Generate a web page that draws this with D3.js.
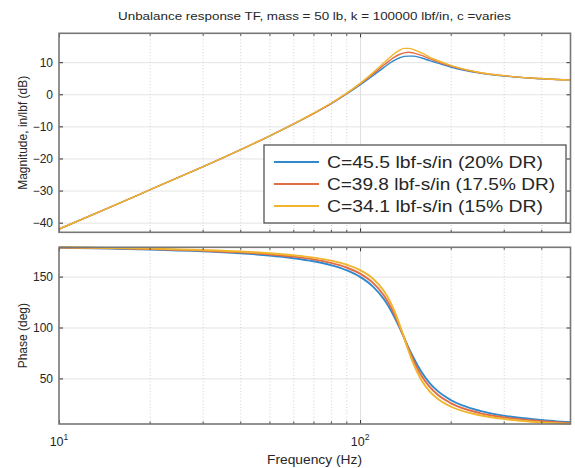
<!DOCTYPE html>
<html>
<head>
<meta charset="utf-8">
<script src="https://cdn.jsdelivr.net/npm/d3@7"></script>
<style>
  body { margin: 0; background: #ffffff; }
  text { font-family: "Liberation Sans", Arial, Helvetica, sans-serif; fill: #262626; }
</style>
</head>
<body>
<svg id="chart" width="575" height="468"></svg>
<script>
// Frequency grid (Hz)
const freqHz = [10, 15, 20, 30, 40, 50, 60, 70, 80, 90, 100, 110, 120, 125, 130, 135,
                140, 145, 150, 160, 170, 180, 200, 250, 300, 350, 400, 450, 500];

// Magnitude, in/lbf (dB)
const magC455 = [-42.0, -34.9, -29.8, -22.6, -17.3, -13.0, -9.3, -6.0, -3.0, 0.0, 2.9, 5.7, 8.4, 9.6, 10.6, 11.3,
                 11.8, 11.9, 11.9, 11.3, 10.5, 9.8, 8.5, 6.6, 5.7, 5.2, 4.8, 4.6, 4.5];
const magC398 = [-42.0, -34.9, -29.8, -22.6, -17.3, -13.0, -9.3, -6.0, -2.9, 0.2, 3.2, 6.2, 9.1, 10.4, 11.6, 12.4,
                 12.9, 13.1, 12.9, 12.1, 11.1, 10.2, 8.8, 6.7, 5.8, 5.2, 4.9, 4.6, 4.5];
const magC341 = [-42.0, -34.9, -29.8, -22.6, -17.3, -13.0, -9.3, -5.9, -2.8, 0.3, 3.4, 6.6, 9.8, 11.3, 12.7, 13.7,
                 14.3, 14.3, 14.0, 12.9, 11.6, 10.6, 9.0, 6.8, 5.8, 5.2, 4.9, 4.6, 4.5];

// Phase (deg)
const phaseC455 = [178.4, 177.5, 176.7, 174.9, 172.9, 170.7, 168.1, 165.1, 161.3, 156.3, 149.7, 140.6, 127.7, 119.6, 110.3, 100.3,
                   90.0, 80.0, 71.0, 56.2, 45.7, 38.2, 28.8, 18.1, 13.4, 10.8, 9.1, 7.8, 6.9];
const phaseC398 = [178.6, 177.8, 177.1, 175.5, 173.8, 171.8, 169.6, 166.9, 163.5, 159.0, 153.0, 144.3, 131.5, 123.0, 113.0, 101.7,
                   90.0, 78.7, 68.5, 52.6, 41.9, 34.6, 25.7, 15.9, 11.8, 9.5, 8.0, 6.9, 6.1];
const phaseC341 = [178.8, 178.1, 177.5, 176.1, 174.7, 173.0, 171.0, 168.7, 165.7, 161.8, 156.4, 148.4, 135.9, 127.1, 116.3, 103.6,
                   90.0, 76.8, 65.3, 48.2, 37.5, 30.6, 22.4, 13.8, 10.2, 8.1, 6.8, 5.9, 5.2];

const seriesLabels = ["C=45.5 lbf-s/in (20% DR)", "C=39.8 lbf-s/in (17.5% DR)", "C=34.1 lbf-s/in (15% DR)"];
const seriesColors = ["#3088cd", "#e26d45", "#f0b52c"];

const magTicks = [-40, -30, -20, -10, 0, 10];
const phaseTicks = [50, 100, 150];
const decadeTicks = [10, 100];
const minorTicks = [20, 30, 40, 50, 60, 70, 80, 90, 200, 300, 400];

const titleText = "Unbalance response TF, mass = 50 lb, k = 100000 lbf/in, c =varies";
const magLabel = "Magnitude, in/lbf (dB)";
const phaseLabel = "Phase (deg)";
const freqLabel = "Frequency  (Hz)";

const svg = d3.select("#chart");
const L = 59, R = 570.5;
const magBox = { top: 33.3, bottom: 232.3 };
const phBox = { top: 247.3, bottom: 424 };

const x = d3.scaleLog().domain([10, 500]).range([L, R]);
const yMag = d3.scaleLinear().domain([-43, 19]).range([magBox.bottom, magBox.top]);
const yPh = d3.scaleLinear().domain([5.2, 178.8]).range([phBox.bottom, phBox.top]);

const frameColor = "#777777";

function drawPanel(y, yTicks, box, seriesList, lineWidth) {
  const g = svg.append("g");
  // horizontal major grid
  g.append("g")
    .attr("transform", `translate(${L},0)`)
    .call(d3.axisLeft(y).tickValues(yTicks).tickSize(-(R - L)).tickFormat(""))
    .call(s => s.select(".domain").remove())
    .call(s => s.selectAll("line").attr("stroke", "#e4e4e4").attr("stroke-width", 1));
  // vertical grid: decades solid, minors dotted
  g.append("g")
    .attr("transform", `translate(0,${box.bottom})`)
    .call(d3.axisBottom(x).tickValues(decadeTicks.filter(d => d > 10)).tickSize(-(box.bottom - box.top)).tickFormat(""))
    .call(s => s.select(".domain").remove())
    .call(s => s.selectAll("line").attr("stroke", "#dedede").attr("stroke-width", 1));
  g.append("g")
    .attr("transform", `translate(0,${box.bottom})`)
    .call(d3.axisBottom(x).tickValues(minorTicks).tickSize(-(box.bottom - box.top)).tickFormat(""))
    .call(s => s.select(".domain").remove())
    .call(s => s.selectAll("line").attr("stroke", "#cfcfcf").attr("stroke-width", 1).attr("stroke-dasharray", "1,2.2"));

  // curves
  const line = d3.line().x(d => x(d[0])).y(d => y(d[1])).curve(d3.curveMonotoneX);
  seriesList.forEach((vals, i) => {
    g.append("path")
      .datum(freqHz.map((f, k) => [f, vals[k]]))
      .attr("fill", "none")
      .attr("stroke", seriesColors[i])
      .attr("stroke-width", lineWidth)
      .attr("stroke-linejoin", "round")
      .attr("d", line);
  });

  // inward ticks on all four sides
  const left = g.append("g").attr("transform", `translate(${L},0)`)
    .call(d3.axisLeft(y).tickValues(yTicks).tickSize(-4).tickPadding(6));
  left.select(".domain").remove();
  left.selectAll("line").attr("stroke", "#333").attr("stroke-width", 1);
  left.selectAll("text").style("font-size", "12px").attr("fill", "#262626")
    .style("font-family", '"Liberation Sans", Arial, sans-serif');
  const right = g.append("g").attr("transform", `translate(${R},0)`)
    .call(d3.axisRight(y).tickValues(yTicks).tickSize(-4).tickFormat(""));
  right.select(".domain").remove();
  right.selectAll("line").attr("stroke", "#333");
  [[box.bottom, d3.axisBottom], [box.top, d3.axisTop]].forEach(([yy, ax]) => {
    const major = g.append("g").attr("transform", `translate(0,${yy})`)
      .call(ax(x).tickValues(decadeTicks).tickSize(-4).tickFormat(""));
    major.select(".domain").remove();
    major.selectAll("line").attr("stroke", "#333");
    const minor = g.append("g").attr("transform", `translate(0,${yy})`)
      .call(ax(x).tickValues(minorTicks).tickSize(-2.5).tickFormat(""));
    minor.select(".domain").remove();
    minor.selectAll("line").attr("stroke", "#444");
  });

  // frame
  g.append("rect")
    .attr("x", L).attr("y", box.top)
    .attr("width", R - L).attr("height", box.bottom - box.top)
    .attr("fill", "none").attr("stroke", frameColor).attr("stroke-width", 1.6);
  return g;
}

drawPanel(yMag, magTicks, magBox, [magC455, magC398, magC341], 1.4);
drawPanel(yPh, phaseTicks, phBox, [phaseC455, phaseC398, phaseC341], 1.9);

// decade labels under the phase panel
const xl = svg.append("g");
decadeTicks.forEach(d => {
  const t = xl.append("text")
    .attr("x", x(d)).attr("y", 446)
    .attr("text-anchor", "middle")
    .style("font-size", "12.5px");
  t.append("tspan").text("10");
  t.append("tspan").attr("dy", -6).style("font-size", "8.5px").text(String(Math.round(Math.log10(d))));
});

// title and axis labels
svg.append("text").attr("x", 314.5).attr("y", 20).attr("text-anchor", "middle")
  .style("font-size", "11.5px").attr("textLength", 393).attr("lengthAdjust", "spacingAndGlyphs")
  .text(titleText);
svg.append("text").attr("x", 314.5).attr("y", 464).attr("text-anchor", "middle")
  .style("font-size", "12.5px").attr("textLength", 95).attr("lengthAdjust", "spacingAndGlyphs")
  .text(freqLabel);
svg.append("text").attr("transform", `translate(27,${(magBox.top + magBox.bottom) / 2}) rotate(-90)`)
  .attr("text-anchor", "middle").style("font-size", "12px").text(magLabel);
svg.append("text").attr("transform", `translate(27,${(phBox.top + phBox.bottom) / 2}) rotate(-90)`)
  .attr("text-anchor", "middle").style("font-size", "12px").text(phaseLabel);

// legend
const leg = svg.append("g");
leg.append("rect").attr("x", 264).attr("y", 145).attr("width", 302).attr("height", 78)
  .attr("fill", "#ffffff").attr("stroke", "#555555").attr("stroke-width", 1.3);
const legendLengths = [216, 228, 216];
seriesLabels.forEach((lab, i) => {
  const cy = 162 + i * 22;
  leg.append("line").attr("x1", 274).attr("x2", 319).attr("y1", cy).attr("y2", cy)
    .attr("stroke", seriesColors[i]).attr("stroke-width", 2);
  leg.append("text").attr("x", 327).attr("y", cy + 6)
    .style("font-size", "17px")
    .attr("textLength", legendLengths[i]).attr("lengthAdjust", "spacingAndGlyphs")
    .text(lab);
});
</script>
</body>
</html>
